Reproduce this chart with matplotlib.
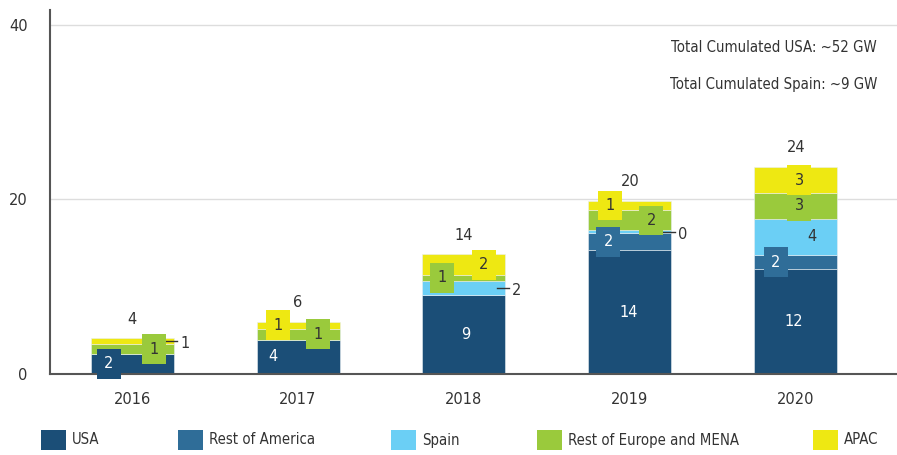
import matplotlib
matplotlib.use("Agg")
import matplotlib.pyplot as plt
import numpy as np
from matplotlib import font_manager

_fonts = font_manager.fontManager.ttflist
_names = {f.name for f in _fonts}
_dejavu_cond = any(f.name == 'DejaVu Sans' and 'Condensed' in f.fname for f in _fonts)
if 'Liberation Sans Narrow' in _names:
    plt.rcParams['font.family'] = ['Liberation Sans Narrow', 'DejaVu Sans']
    FS = 12.5
elif _dejavu_cond:
    plt.rcParams['font.family'] = ['DejaVu Sans']
    plt.rcParams['font.stretch'] = 'condensed'
    FS = 10.7
else:
    plt.rcParams['font.family'] = ['Liberation Sans', 'DejaVu Sans']
    FS = 10.5

years = ["2016", "2017", "2018", "2019", "2020"]
series = ["USA", "Rest of America", "Spain", "Rest of Europe and MENA", "APAC"]
usa = [2.3, 3.9, 9.0, 14.2, 12.0]
rest_america = [0.0, 0.0, 0.0, 1.9, 1.6]
spain = [0.0, 0.0, 1.7, 0.35, 4.2]
rest_europe = [1.1, 1.3, 0.6, 2.3, 2.9]
apac = [0.7, 0.8, 2.4, 1.1, 3.0]
totals = ["4", "6", "14", "20", "24"]
# displayed label texts (None = no label)
lbl_usa = ["2", "4", "9", "14", "12"]
lbl_ra = [None, None, None, "2", "2"]
lbl_spain = [None, None, "2", "0", "4"]
lbl_re = ["1", "1", "1", "2", "3"]
lbl_apac = ["1", "1", "2", "1", "3"]
notes = ["Total Cumulated USA: ~52 GW", "Total Cumulated Spain: ~9 GW"]

colors = ["#1b4e77", "#2f6d98", "#6bcff5", "#9aca3c", "#eee812"]
text_colors = ["white", "white", "#333333", "#333333", "#333333"]

values = [usa, rest_america, spain, rest_europe, apac]
labels = [lbl_usa, lbl_ra, lbl_spain, lbl_re, lbl_apac]

# label x offsets (in category units), 'out' means outside with leader line
offsets = [
    [-0.14, -0.15, 0.01, -0.01, -0.01],
    [0, 0, 0, -0.13, -0.12],
    [0, 0, 'out', 'out', 0.10],
    [0.13, 0.12, -0.13, 0.13, 0.02],
    ['out', -0.12, 0.12, -0.12, 0.02],
]

fig = plt.figure(figsize=(8.97, 4.55), dpi=100)
ax = fig.add_axes([50/897, 81/455, 847/897, 364/455])
x = np.arange(len(years))
bottom = np.zeros(len(years))
for s, (vals, col) in enumerate(zip(values, colors)):
    v = np.array(vals)
    ax.bar(x, v, width=0.5, bottom=bottom, color=col, edgecolor='#e8eef3',
           linewidth=0.4, zorder=2)
    for i in range(len(years)):
        t = labels[s][i]
        if t is None:
            continue
        mid = bottom[i] + v[i] / 2
        off = offsets[s][i]
        if off == 'out':
            ax.plot([x[i] + 0.20, x[i] + 0.27], [mid, mid], color='#333333', lw=1, zorder=4)
            ax.text(x[i] + 0.32, mid - 0.3, t, ha='center', va='center',
                    fontsize=FS + 1, color='#333333', zorder=5)
        else:
            ax.text(x[i] + off, mid, t, ha='center', va='center', fontsize=FS + 1,
                    color=text_colors[s], zorder=5,
                    bbox=dict(boxstyle='square,pad=0.45', fc=col, ec='none'))
    bottom += v

for i in range(len(years)):
    ax.text(x[i], bottom[i] + 2.2, totals[i], ha='center', va='center',
            fontsize=FS + 1, color='#333333')

ax.set_xlim(-0.495, 4.61)
ax.set_ylim(0, 41.7)
ax.set_yticks([0, 20, 40])
ax.set_xticks(x)
ax.set_xticklabels(years)
ax.tick_params(axis='both', length=0, labelsize=FS + 1, colors='#333333')
ax.tick_params(axis='y', pad=16)
ax.tick_params(axis='x', pad=13)
ax.yaxis.grid(True, color='#dddddd', lw=1, zorder=0)
ax.set_axisbelow(True)
for sp in ['top', 'right']:
    ax.spines[sp].set_visible(False)
ax.spines['left'].set_color('#555555')
ax.spines['bottom'].set_color('#555555')
ax.spines['left'].set_linewidth(1.5)
ax.spines['bottom'].set_linewidth(1.5)

fig.text(877/897, 1 - 47/455, notes[0], ha='right', va='center', fontsize=FS, color='#333333')
fig.text(877/897, 1 - 85/455, notes[1], ha='right', va='center', fontsize=FS, color='#333333')

leg_x = [41, 178, 391, 537, 813]
for hx, c, name in zip(leg_x, colors, series):
    fig.patches.append(plt.Rectangle((hx/897, 1 - 450/455), 25/897, 20/455,
                                     transform=fig.transFigure, fc=c, ec='none', figure=fig))
    fig.text((hx + 31)/897, 1 - 440/455, name, ha='left', va='center',
             fontsize=FS, color='#333333')

fig.savefig("out.png", dpi=100)
